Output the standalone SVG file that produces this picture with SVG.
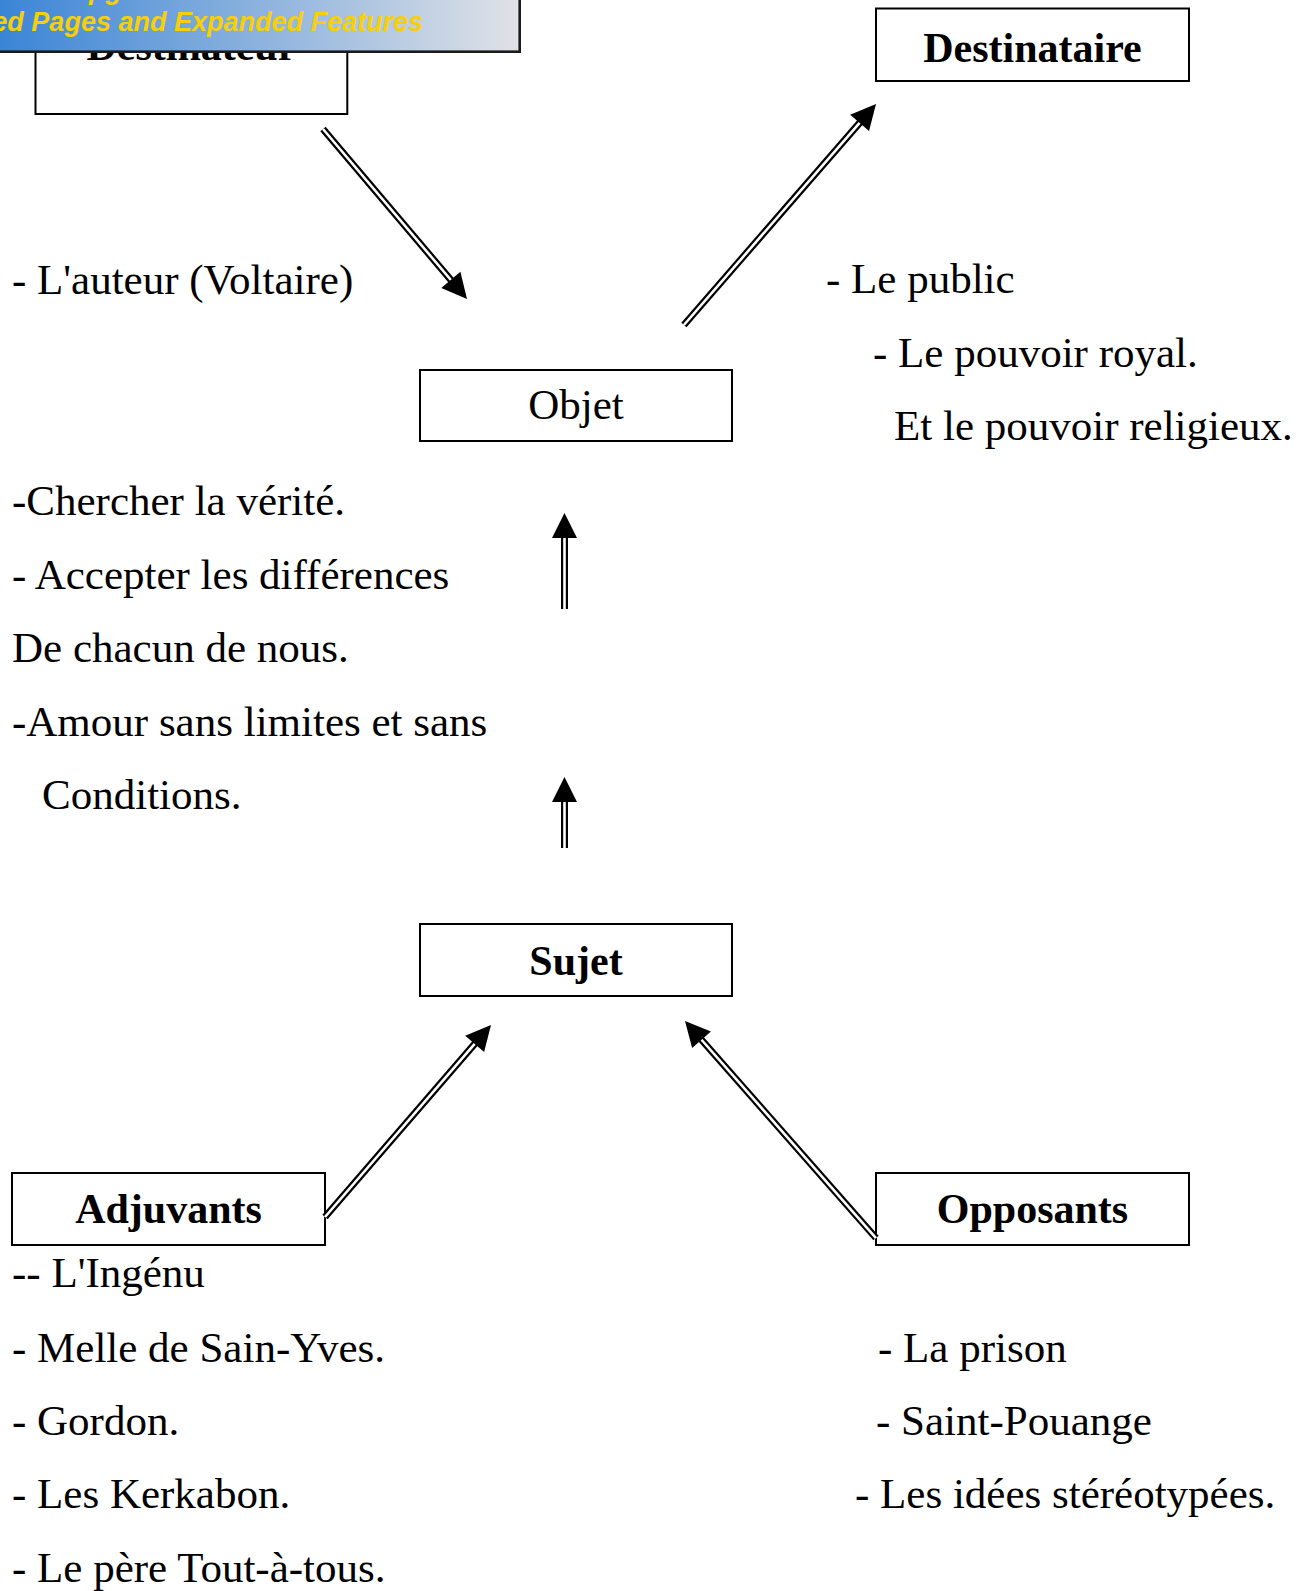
<svg xmlns="http://www.w3.org/2000/svg" xmlns:xlink="http://www.w3.org/1999/xlink" width="1305" height="1591" viewBox="0 0 1305 1591">
<defs>
<style>
.box{fill:#fff;stroke:#000;stroke-width:2}
.t{font-family:"Liberation Serif","Times New Roman",serif;font-size:43px;fill:#000}
.b{font-weight:bold;font-size:42px}
.c{text-anchor:middle}
.outer{stroke:#000;stroke-width:7;fill:none}
.inner{stroke:#fff;stroke-width:2.6;fill:none}
.ban{font-family:"Liberation Sans",Arial,sans-serif;font-weight:bold;font-style:italic;font-size:27px;fill:#f6cf0a;text-anchor:end}
</style>
<linearGradient id="bg" x1="0" y1="0" x2="1" y2="0">
<stop offset="0" stop-color="#3984d6"/>
<stop offset="0.5" stop-color="#8cb2de"/>
<stop offset="1" stop-color="#e0e2e6"/>
</linearGradient>
<path id="head" d="M0,0 L-25,-12.5 L-25,12.5 Z" fill="#000"/>
</defs>
<rect width="1305" height="1591" fill="#fff"/>

<g id="destinateur">
<rect class="box" x="35.5" y="6" width="311.8" height="108"/>
<text class="t b c" x="191.4" y="60">Destinateur</text>
</g>

<g id="destinataire">
<rect class="box" x="876" y="8.5" width="313" height="72.5"/>
<text class="t b c" x="1032.5" y="62">Destinataire</text>
</g>

<g id="objet">
<rect class="box" x="420" y="370" width="312" height="71"/>
<text class="t c" x="576" y="419">Objet</text>
</g>

<g id="sujet">
<rect class="box" x="420" y="924" width="312" height="72"/>
<text class="t b c" x="576" y="975">Sujet</text>
</g>

<g id="adjuvants">
<rect class="box" x="12" y="1173" width="313" height="72"/>
<text class="t b c" x="168.5" y="1223">Adjuvants</text>
</g>

<g id="opposants">
<rect class="box" x="876" y="1173" width="313" height="72"/>
<text class="t b c" x="1032.5" y="1223">Opposants</text>
</g>

<g id="connectors">
<g transform="translate(467,299) rotate(49.73)">
<line class="outer" x1="-222.8" y1="0" x2="-20" y2="0"/>
<line class="inner" x1="-222.8" y1="0" x2="-20" y2="0"/>
<use xlink:href="#head"/>
</g>
<g transform="translate(876,104) rotate(-49.0)">
<line class="outer" x1="-292.8" y1="0" x2="-20" y2="0"/>
<line class="inner" x1="-292.8" y1="0" x2="-20" y2="0"/>
<use xlink:href="#head"/>
</g>
<g transform="translate(564.5,513) rotate(-90)">
<line class="outer" x1="-96" y1="0" x2="-20" y2="0"/>
<line class="inner" x1="-96" y1="0" x2="-20" y2="0"/>
<use xlink:href="#head"/>
</g>
<g transform="translate(564.5,777) rotate(-90)">
<line class="outer" x1="-71" y1="0" x2="-20" y2="0"/>
<line class="inner" x1="-71" y1="0" x2="-20" y2="0"/>
<use xlink:href="#head"/>
</g>
<g transform="translate(491,1025) rotate(-49.15)">
<line class="outer" x1="-253.8" y1="0" x2="-20" y2="0"/>
<line class="inner" x1="-253.8" y1="0" x2="-20" y2="0"/>
<use xlink:href="#head"/>
</g>
<g transform="translate(685,1021) rotate(-131.35)">
<line class="outer" x1="-289.1" y1="0" x2="-20" y2="0"/>
<line class="inner" x1="-289.1" y1="0" x2="-20" y2="0"/>
<use xlink:href="#head"/>
</g>
</g>

<g id="labels">
<text class="t" x="12" y="294">- L'auteur (Voltaire)</text>
<text class="t" x="826" y="293">- Le public</text>
<text class="t" x="873" y="367">- Le pouvoir royal.</text>
<text class="t" x="894" y="440">Et le pouvoir religieux.</text>
<text class="t" x="12" y="515">-Chercher la vérité.</text>
<text class="t" x="12" y="589">- Accepter les différences</text>
<text class="t" x="12" y="662">De chacun de nous.</text>
<text class="t" x="12" y="736">-Amour sans limites et sans</text>
<text class="t" x="42" y="809">Conditions.</text>
<text class="t" x="12" y="1287">-- L'Ingénu</text>
<text class="t" x="12" y="1362">- Melle de Sain-Yves.</text>
<text class="t" x="12" y="1435">- Gordon.</text>
<text class="t" x="12" y="1508">- Les Kerkabon.</text>
<text class="t" x="12" y="1582">- Le père Tout-à-tous.</text>
<text class="t" x="878" y="1362">- La prison</text>
<text class="t" x="876" y="1435">- Saint-Pouange</text>
<text class="t" x="855" y="1508">- Les idées stéréotypées.</text>
</g>

<g id="banner">
<rect x="-5" y="-5" width="524.7" height="56.7" fill="url(#bg)" stroke="#1a1a1a" stroke-width="2.6"/>
<text class="ban" x="212" y="-1">Click Here to upgrade to</text>
<text class="ban" x="423" y="31">Unlimited Pages and Expanded Features</text>
</g>
</svg>
